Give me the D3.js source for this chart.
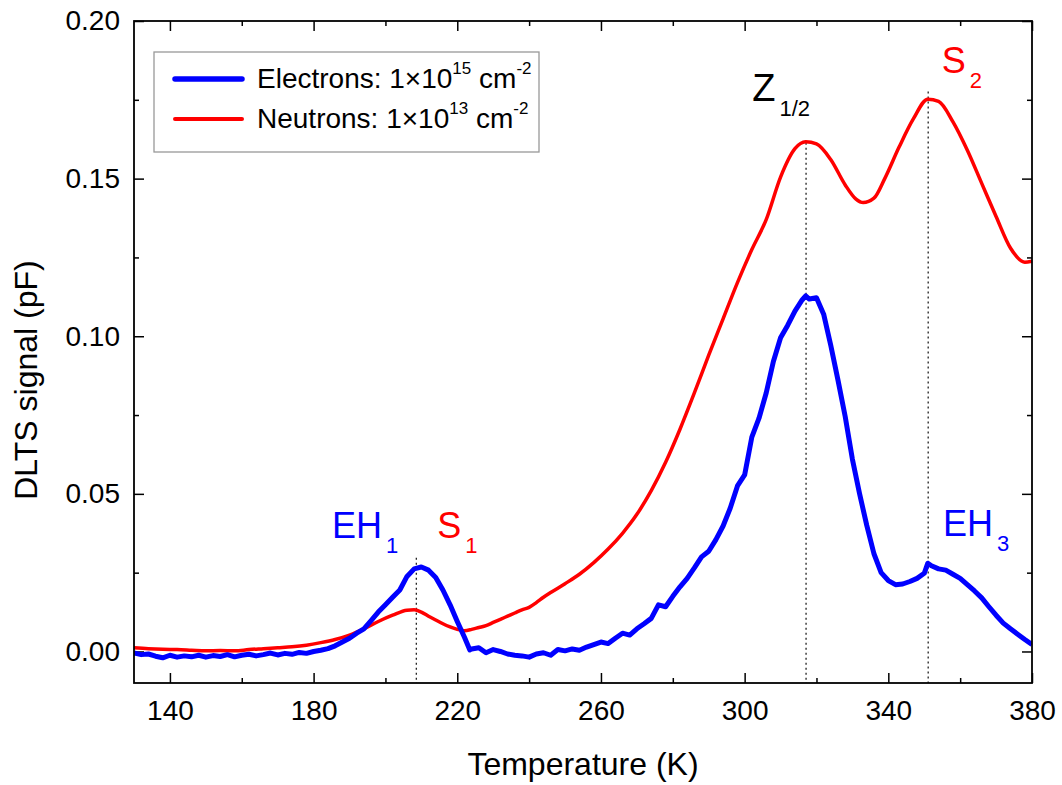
<!DOCTYPE html>
<html>
<head>
<meta charset="utf-8">
<script src="https://cdn.jsdelivr.net/npm/d3@7"></script>
<style>
  body { margin: 0; background: #fff; }
  svg text { font-family: Arial, "Liberation Sans", sans-serif; }
</style>
</head>
<body>
<div id="chart"></div>
<script>
// DLTS spectra, electron vs neutron irradiated

// electrons: 1e15 cm^-2 (blue)
const electronT = [130,132,134,136,138,140,142,144,146,148,150,152,154,156,158,160,162,164,166,168,170,172,174,176,178,180,
  182,184,186,188,190,192,194,196,198,200,202,204,206,208,210,212,214,216,218,220,222,223.5,224,226,228,230,232,234,236,238,
  240,242,244,246,248,250,252,254,256,258,260,262,264,266,268,270,272,274,276,278,280,282,284,286,288,290,292,294,296,298,
  300,302,304,306,308,310,312,314,316,317,318,320,322,324,326,328,330,332,334,336,338,340,342,344,346,348,350,351,352,354,
  356,358,360,362,364,366,368,370,372,374,376,378,380];
const electronV = [-0.0005,-0.001,-0.0008,-0.0015,-0.002,-0.0012,-0.0018,-0.0014,-0.0017,-0.0012,-0.0018,-0.0013,-0.0016,
  -0.001,-0.0017,-0.0012,-0.0009,-0.0014,-0.001,-0.0005,-0.0011,-0.0006,-0.0009,-0.0003,-0.0006,0.0,
  0.0004,0.0009,0.0018,0.003,0.0042,0.0058,0.0072,0.0098,0.0125,0.0148,0.0172,0.0195,0.0238,0.0262,0.0268,0.0258,0.0235,
  0.0195,0.0148,0.0095,0.0045,0.0005,0.0008,0.0012,-0.0004,0.0006,0.0,-0.0008,-0.0012,-0.0014,
  -0.0018,-0.0008,-0.0004,-0.0012,0.0006,0.0002,0.0008,0.0004,0.0014,0.0022,0.003,0.0025,0.0042,0.0058,0.0052,0.0072,
  0.0088,0.0105,0.0148,0.0142,0.0175,0.0205,0.0232,0.0265,0.030,0.0318,0.0355,0.0398,0.0455,0.0525,
  0.056,0.068,0.074,0.082,0.092,0.0995,0.1035,0.108,0.1115,0.1128,0.1118,0.1122,0.107,0.097,0.086,0.0745,0.061,0.050,
  0.040,0.031,0.025,0.0225,0.0212,0.0214,0.0222,0.0232,0.0248,0.028,0.0272,0.0262,
  0.0258,0.0245,0.0232,0.0212,0.0192,0.017,0.0142,0.0115,0.009,0.0072,0.0055,0.0038,0.0022];

// neutrons: 1e13 cm^-2 (red)
const neutronT = [130,134,138,142,146,150,154,158,162,166,170,174,178,182,186,190,194,198,202,206,208,210,212,214,216,218,
  220,222,224,226,228,230,232,234,236,238,240,242,244,246,250,254,258,262,266,270,274,278,282,286,290,294,298,302,306,310,
  314,317,320,324,328,331,333,336,339,343,347,351,354,358,362,366,370,374,378,380];
const neutronV = [0.0012,0.0009,0.0007,0.0006,0.0004,0.0002,0.0003,0.0002,0.0006,0.0009,0.0012,0.0015,0.002,0.0028,0.0038,
  0.0052,0.0072,0.0095,0.0115,0.0131,0.0132,0.0125,0.0112,0.0100,0.0088,0.0078,
  0.0070,0.0066,0.0070,0.0076,0.0082,0.0092,0.0102,0.0112,0.0122,0.0132,0.0140,0.0155,0.0172,0.0187,0.0215,0.0245,0.0282,
  0.0325,0.0375,0.0435,0.051,0.060,0.0705,0.082,0.094,0.1055,0.117,0.1275,0.137,0.1505,
  0.1595,0.1617,0.161,0.156,0.148,0.1435,0.1424,0.1438,0.150,0.160,0.169,0.1752,0.1745,0.168,0.159,0.1485,0.138,0.128,
  0.1235,0.1238];

const xTicks = [140, 180, 220, 260, 300, 340, 380];
const xMinor = [160, 200, 240, 280, 320, 360];
const yTicks = [0, 0.05, 0.10, 0.15, 0.20];
const yMinor = [0.025, 0.075, 0.125, 0.175];

// peak markers: temperature, top of dotted line
const peakT = [208.6, 317.1, 351.1];
const peakTop = [0.0297, 0.1614, 0.1776];

// peak names: main text, subscript, anchor (T, signal)
const peakNames = [
  { main: "EH", sub: "1", t: 185.1, v: 0.036, color: "#0000ff" },
  { main: "S", sub: "1", t: 214.4, v: 0.036, color: "#ff0000" },
  { main: "Z", sub: "1/2", t: 302.1, v: 0.1745, color: "#000000" },
  { main: "S", sub: "2", t: 354.9, v: 0.1835, color: "#ff0000" },
  { main: "EH", sub: "3", t: 355.2, v: 0.0367, color: "#0000ff" }
];

const legendItems = [
  { name: "Electrons: 1×10", exp: "15", color: "#0000ff", width: 5.5 },
  { name: "Neutrons: 1×10", exp: "13", color: "#ff0000", width: 4 }
];

const W = 1062, H = 785;
const m = { left: 134, right: 1032, top: 21, bottom: 683 };

const svg = d3.select("#chart").append("svg")
  .attr("width", W)
  .attr("height", H);

const x = d3.scaleLinear().domain([130, 380]).range([m.left, m.right]);
const y = d3.scaleLinear().domain([-0.01, 0.20]).range([m.bottom, m.top]);

svg.append("clipPath").attr("id", "plotclip")
  .append("rect")
  .attr("x", m.left).attr("y", m.top)
  .attr("width", m.right - m.left).attr("height", m.bottom - m.top);

// axes, ticks inward on all four sides
function styleAxis(g) {
  g.select(".domain").remove();
  g.selectAll(".tick line").attr("stroke", "#000").attr("stroke-width", 1.5);
  g.selectAll(".tick text").attr("font-size", 28).attr("fill", "#000")
    .style("font-family", "Arial, 'Liberation Sans', sans-serif");
}

svg.append("g")
  .attr("transform", "translate(0," + m.bottom + ")")
  .call(d3.axisBottom(x).tickValues(xTicks).tickSize(-10).tickPadding(17).tickFormat(d3.format("d")))
  .call(styleAxis);
svg.append("g")
  .attr("transform", "translate(0," + m.bottom + ")")
  .call(d3.axisBottom(x).tickValues(xMinor).tickSize(-5).tickFormat(""))
  .call(styleAxis);
svg.append("g")
  .attr("transform", "translate(0," + m.top + ")")
  .call(d3.axisTop(x).tickValues(xTicks).tickSize(-10).tickFormat(""))
  .call(styleAxis);
svg.append("g")
  .attr("transform", "translate(0," + m.top + ")")
  .call(d3.axisTop(x).tickValues(xMinor).tickSize(-5).tickFormat(""))
  .call(styleAxis);

svg.append("g")
  .attr("transform", "translate(" + m.left + ",0)")
  .call(d3.axisLeft(y).tickValues(yTicks).tickSize(-10).tickPadding(14).tickFormat(d3.format(".2f")))
  .call(styleAxis);
svg.append("g")
  .attr("transform", "translate(" + m.left + ",0)")
  .call(d3.axisLeft(y).tickValues(yMinor).tickSize(-5).tickFormat(""))
  .call(styleAxis);
svg.append("g")
  .attr("transform", "translate(" + m.right + ",0)")
  .call(d3.axisRight(y).tickValues(yTicks).tickSize(-10).tickFormat(""))
  .call(styleAxis);
svg.append("g")
  .attr("transform", "translate(" + m.right + ",0)")
  .call(d3.axisRight(y).tickValues(yMinor).tickSize(-5).tickFormat(""))
  .call(styleAxis);

// axis titles
svg.append("text")
  .attr("x", (m.left + m.right) / 2)
  .attr("y", 775)
  .attr("text-anchor", "middle")
  .attr("font-size", 32)
  .text("Temperature (K)");

svg.append("text")
  .attr("transform", "translate(37,380) rotate(-90)")
  .attr("text-anchor", "middle")
  .attr("font-size", 32)
  .text("DLTS signal (pF)");

// dotted peak markers
svg.append("g").selectAll("line")
  .data(peakT)
  .enter()
  .append("line")
  .attr("x1", d => x(d))
  .attr("x2", d => x(d))
  .attr("y1", (d, i) => y(peakTop[i]))
  .attr("y2", y(-0.01))
  .attr("stroke", "#222")
  .attr("stroke-width", 1.3)
  .attr("stroke-dasharray", "2,3");

// curves
const line = d3.line()
  .x(d => x(d[0]))
  .y(d => y(d[1]));

const neutronData = neutronT.map((t, i) => [t, neutronV[i]]);
const electronData = electronT.map((t, i) => [t, electronV[i]]);

const plot = svg.append("g").attr("clip-path", "url(#plotclip)");

plot.append("path")
  .datum(neutronData)
  .attr("fill", "none")
  .attr("stroke", "#ff0000")
  .attr("stroke-width", 3.5)
  .attr("stroke-linejoin", "round")
  .attr("d", line.curve(d3.curveMonotoneX));

plot.append("path")
  .datum(electronData)
  .attr("fill", "none")
  .attr("stroke", "#0000ff")
  .attr("stroke-width", 5)
  .attr("stroke-linejoin", "round")
  .attr("d", line.curve(d3.curveLinear));

// frame
svg.append("rect")
  .attr("x", m.left).attr("y", m.top)
  .attr("width", m.right - m.left).attr("height", m.bottom - m.top)
  .attr("fill", "none")
  .attr("stroke", "#000")
  .attr("stroke-width", 1.8);

// peak names with subscripts
peakNames.forEach(function(p) {
  let big = p.main === "Z" ? 38 : 36;
  let t = svg.append("text")
    .attr("x", x(p.t))
    .attr("y", y(p.v))
    .attr("fill", p.color)
    .attr("font-size", big);
  t.append("tspan").text(p.main);
  t.append("tspan")
    .attr("dx", 4)
    .attr("dy", 15)
    .attr("font-size", 22)
    .text(p.sub);
});

// legend
const legend = svg.append("g");
legend.append("rect")
  .attr("x", 154).attr("y", 52)
  .attr("width", 385).attr("height", 100)
  .attr("fill", "#fff")
  .attr("stroke", "#999")
  .attr("stroke-width", 1.3);

legendItems.forEach(function(d, i) {
  let ly = 79 + i * 40;
  legend.append("line")
    .attr("x1", 175).attr("x2", 242)
    .attr("y1", ly).attr("y2", ly)
    .attr("stroke", d.color)
    .attr("stroke-width", d.width)
    .attr("stroke-linecap", "round");
  let t = legend.append("text")
    .attr("x", 257)
    .attr("y", ly + 9)
    .attr("font-size", 28);
  t.append("tspan").text(d.name);
  t.append("tspan").attr("dy", -14).attr("font-size", 17).text(d.exp);
  t.append("tspan").attr("dy", 14).text(" cm");
  t.append("tspan").attr("dy", -14).attr("font-size", 17).text("-2");
});
</script>
</body>
</html>
